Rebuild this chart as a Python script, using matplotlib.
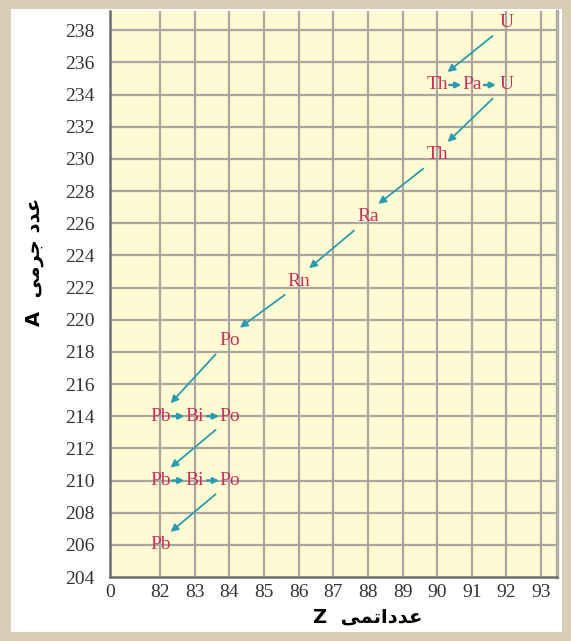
import matplotlib.pyplot as plt
from matplotlib.patches import Rectangle

# uranium-238 decay chain (atomic number Z, mass number A)
symbols = ["U", "Th", "Pa", "U", "Th", "Ra", "Rn", "Po", "Pb", "Bi", "Po", "Pb", "Bi", "Po", "Pb"]
Z = [92, 90, 91, 92, 90, 88, 86, 84, 82, 83, 84, 82, 83, 84, 82]
# mass numbers where the symbols sit in the drawing (upper ones drift a little above the grid line)
A = [238.5, 234.6, 234.6, 234.6, 230.25, 226.4, 222.4, 218.7, 214, 214, 214, 210, 210, 210, 206]

z_ticks = [82, 83, 84, 85, 86, 87, 88, 89, 90, 91, 92, 93]
a_ticks = list(range(204, 240, 2))

# persian labels, shaped by hand (presentation forms, visual order)
ylab = "A  \uFEF0\uFEE3\uFEAE\uFE9F \uFEA9\uFEAA\uFECB"
xlab = "Z  \uFEF0\uFEE4\uFE97\uFE8D\uFEA9\uFEAA\uFECB"

label_col = "#c8325e"
arrow_col = "#2a9cb2"
grid_col = "#a9a7a0"

W, H = 571, 641
fig = plt.figure(figsize=(W / 100, H / 100), dpi=100, facecolor="#d7cfb8")
fig.patches.append(Rectangle((11 / W, 9 / H), (562 - 11) / W, (632 - 9) / H,
                             transform=fig.transFigure, facecolor="white",
                             edgecolor="none", zorder=-10))

ax = fig.add_axes([110 / W, (H - 577) / H, (557 - 110) / W, (577 - 11) / H])
ax.set_zorder(1)
ax.set_facecolor("#fffbd2")

x0 = 80.55
ax.set_xlim(x0, 93.46)
ax.set_ylim(204, 239.2)

for z in z_ticks:
    ax.axvline(z, color=grid_col, lw=1.6, zorder=1)
for a in a_ticks[1:]:
    ax.axhline(a, color=grid_col, lw=1.6, zorder=1)

ax.set_xticks([x0] + z_ticks)
ax.set_xticklabels(["0"] + [str(z) for z in z_ticks])
ax.set_yticks(a_ticks)
ax.set_yticklabels([str(a) for a in a_ticks])
ax.tick_params(length=0, labelsize=14, colors="#333333")
ax.tick_params(axis="y", pad=11)
ax.tick_params(axis="x", pad=5)
for lbl in ax.get_xticklabels() + ax.get_yticklabels():
    lbl.set_family("Liberation Serif")

for side in ["left", "bottom"]:
    ax.spines[side].set_color("#6e6e6e")
    ax.spines[side].set_linewidth(1.8)
ax.spines["right"].set_color("#b0aea6")
ax.spines["right"].set_linewidth(2.5)
ax.spines["top"].set_visible(False)

# element symbols
for s, z, a in zip(symbols, Z, A):
    ax.text(z, a, s, color=label_col, fontsize=14, family="Liberation Serif",
            ha="center", va="center", zorder=4)

# decay arrows: alpha when A drops, beta when only Z rises
for i in range(len(Z) - 1):
    z1, a1, z2, a2 = Z[i], A[i], Z[i + 1], A[i + 1]
    if a2 < a1:
        ax.annotate("", xy=(z2 + 0.3, a2 + 0.8), xytext=(z1 - 0.4, a1 - 0.85),
                    arrowprops=dict(arrowstyle="-|>", color=arrow_col, lw=1.3,
                                    mutation_scale=11, shrinkA=0, shrinkB=0),
                    zorder=3)
    else:
        ax.annotate("", xy=(z2 - 0.3, a2), xytext=(z1 + 0.35, a1),
                    arrowprops=dict(arrowstyle="-|>", color=arrow_col, lw=1.8,
                                    mutation_scale=8, shrinkA=0, shrinkB=0),
                    zorder=3)

fig.text(35 / W, 1 - 262 / H, ylab, rotation=90, ha="center", va="center",
         fontsize=14, fontweight="bold", family="DejaVu Sans")
fig.text(368 / W, 1 - 617 / H, xlab, ha="center", va="center",
         fontsize=14, fontweight="bold", family="DejaVu Sans")

fig.savefig("out.png", dpi=100, facecolor=fig.get_facecolor())
